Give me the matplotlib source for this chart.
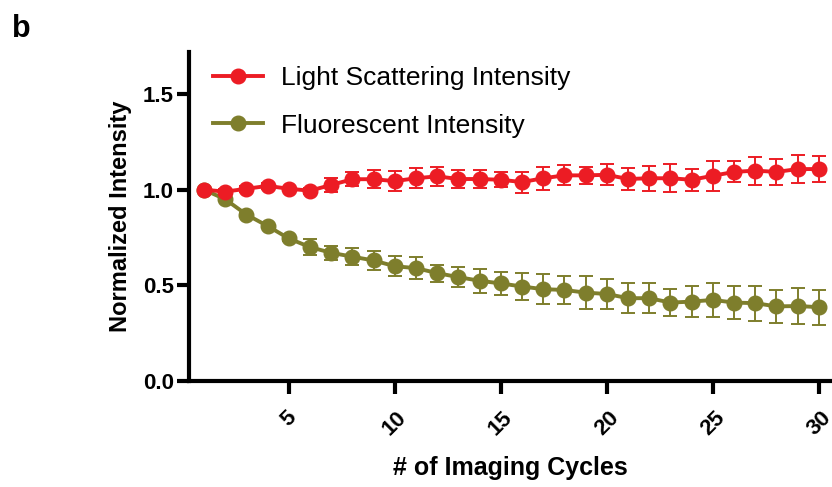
import numpy as np
import matplotlib
matplotlib.use("Agg")
import matplotlib.pyplot as plt

plt.rcParams['font.family'] = ['Liberation Sans', 'DejaVu Sans']

cycles = list(range(1, 31))
scatter_int = [1.00, 0.99, 1.005, 1.02, 1.005, 0.995, 1.025, 1.055, 1.055, 1.045,
               1.06, 1.07, 1.056, 1.056, 1.052, 1.04, 1.06, 1.075, 1.075, 1.078,
               1.056, 1.06, 1.06, 1.052, 1.073, 1.093, 1.10, 1.093, 1.108, 1.108]
scatter_err = [0.0, 0.015, 0.015, 0.015, 0.01, 0.015, 0.035, 0.036, 0.048, 0.052,
               0.052, 0.048, 0.045, 0.045, 0.04, 0.055, 0.06, 0.052, 0.045, 0.055,
               0.055, 0.065, 0.072, 0.058, 0.078, 0.055, 0.073, 0.067, 0.072, 0.07]
fluor_int = [1.00, 0.95, 0.87, 0.81, 0.745, 0.70, 0.67, 0.65, 0.63, 0.60,
             0.59, 0.564, 0.543, 0.524, 0.51, 0.494, 0.48, 0.476, 0.462, 0.455,
             0.433, 0.433, 0.41, 0.415, 0.424, 0.41, 0.407, 0.39, 0.392, 0.386]
fluor_err = [0.0, 0.01, 0.01, 0.01, 0.015, 0.04, 0.037, 0.046, 0.049, 0.052,
             0.059, 0.044, 0.052, 0.062, 0.061, 0.073, 0.078, 0.072, 0.085, 0.08,
             0.08, 0.078, 0.07, 0.081, 0.087, 0.085, 0.092, 0.085, 0.092, 0.092]

red = '#EC1C24'
olive = '#7E7E2C'

fig = plt.figure(figsize=(8.32, 4.87), dpi=100)
ax = fig.add_axes([189/832, 1-381/487, 1-189/832, (381-52)/487])

fl = ax.errorbar(cycles, fluor_int, yerr=fluor_err, color=olive, marker='o', ms=10.5,
                 lw=2.8, elinewidth=1.4, capsize=5, capthick=1.4, zorder=2)
sc = ax.errorbar(cycles, scatter_int, yerr=scatter_err, color=red, marker='o', ms=10.5,
                 lw=2.8, elinewidth=1.4, capsize=5, capthick=1.4, zorder=3)

ax.set_xlim(0.29, 30.62)
ax.set_ylim(0, 1.72)
ax.set_xticks([5, 10, 15, 20, 25, 30])
ax.set_yticks([0.0, 0.5, 1.0, 1.5])
ax.set_yticklabels(['0.0', '0.5', '1.0', '1.5'])

for s in ['top', 'right']:
    ax.spines[s].set_visible(False)
for s in ['left', 'bottom']:
    ax.spines[s].set_linewidth(3)
ax.tick_params(axis='both', width=3, length=9, labelsize=16)
for lab in ax.get_yticklabels():
    lab.set_fontweight('bold')
for lab in ax.get_xticklabels():
    lab.set_fontweight('bold')
    lab.set_rotation(45)
    lab.set_ha('center')
    lab.set_va('top')
ax.tick_params(axis='x', pad=10)
ax.tick_params(axis='y', pad=2)

ax.set_ylabel('Normalized Intensity', fontsize=17, fontweight='bold', labelpad=8)
ax.set_xlabel('# of Imaging Cycles', fontsize=18, fontweight='bold', labelpad=12)

ax.legend([sc.lines[0], fl.lines[0]],
          ['Light Scattering Intensity', 'Fluorescent Intensity'],
          loc='upper left', frameon=False, fontsize=19, labelspacing=0.9,
          handlelength=1.9, handletextpad=0.7, bbox_to_anchor=(0.0, 1.03))

fig.text(0.014, 0.925, 'b', fontsize=22, fontweight='bold')

fig.savefig('out.png', dpi=100)
